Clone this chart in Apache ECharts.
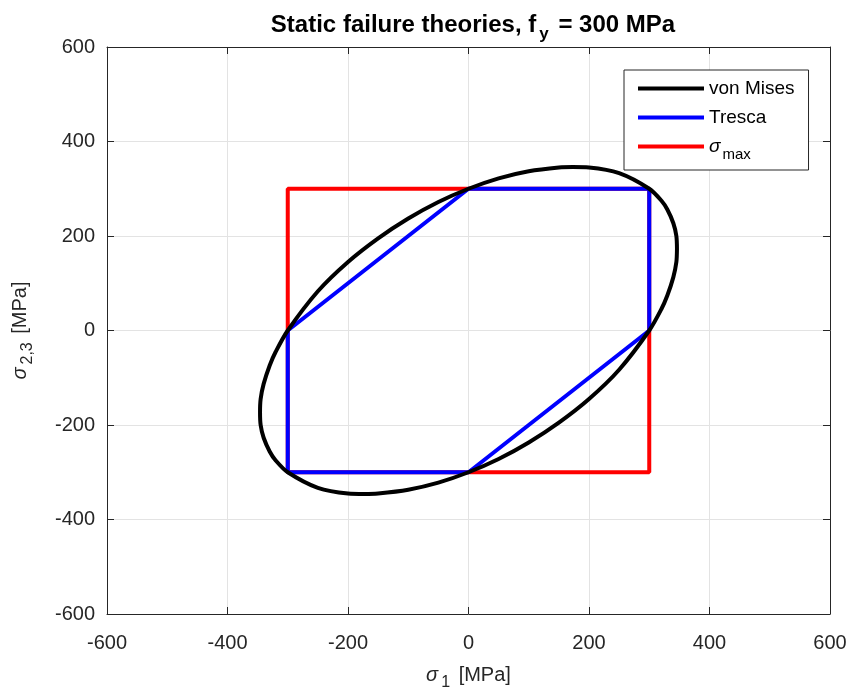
<!DOCTYPE html>
<html>
<head>
<meta charset="utf-8">
<script src="https://cdn.jsdelivr.net/npm/echarts@6/dist/echarts.min.js"></script>
<style>
  html, body { margin: 0; padding: 0; background: #fff; }
  #chart { width: 849px; height: 691px; }
</style>
</head>
<body>
<div id="chart"></div>
<script>
// values (MPa)
const axisTicks = [-600, -400, -200, 0, 200, 400, 600]

// von Mises ellipse, closed loop
const misesX = [346, 345, 340, 330, 320, 300, 250, 200, 173, 150, 100, 50, 0, -50, -100, -150, -200, -250, -300, -320, -330, -340, -345, -346,
  -345, -340, -330, -320, -300, -250, -200, -173, -150, -100, -50, 0, 50, 100, 150, 200, 250, 300, 320, 330, 340, 345, 346]
const misesY = [173, 200, 227, 256, 275, 300, 333, 345, 346, 345, 337, 322, 300, 272, 237, 195, 145, 83, 0, -45, -74, -113, -145, -173,
  -200, -227, -256, -275, -300, -333, -345, -346, -345, -337, -322, -300, -272, -237, -195, -145, -83, 0, 45, 74, 113, 145, 173]

// Tresca hexagon
const trescaX = [300, 300, 0, -300, -300, 0, 300]
const trescaY = [0, 300, 300, 0, -300, -300, 0]

// max normal stress square
const smaxX = [300, -300, -300, 300, 300]
const smaxY = [300, 300, -300, -300, 300]

const pairs = (xs, ys) => xs.map((x, i) => [x, ys[i]])

const txt = '#262626'
const font = 'Liberation Sans, Arial, sans-serif'

const chart = echarts.init(document.getElementById('chart'), null, { renderer: 'canvas' })

const baseAxis = {
  type: 'value',
  min: -600,
  max: 600,
  interval: 200,
  axisLine: { show: true, onZero: false, lineStyle: { color: txt, width: 1 } },
  axisTick: { show: true, inside: true, length: 7, lineStyle: { color: txt } },
}

const nameRich = {
  s: { fontFamily: font, fontStyle: 'italic', fontSize: 20, color: txt },
  sub: { fontFamily: font, fontSize: 16, color: txt, padding: [15, 3, 0, 3] },
  t: { fontFamily: font, fontSize: 20, color: txt }
}

chart.setOption({
  animation: false,
  backgroundColor: '#fff',
  title: {
    text: '{b|Static failure theories, f}{sub|y}{b| = 300 MPa}',
    left: 468,
    textAlign: 'center',
    top: 3,
    textStyle: {
      rich: {
        b: { fontFamily: font, fontWeight: 'bold', fontSize: 24, color: '#000', lineHeight: 28 },
        sub: { fontFamily: font, fontWeight: 'bold', fontSize: 17, color: '#000', padding: [18, 3, 0, 3] }
      }
    }
  },
  grid: { left: 107, right: 19, top: 47, bottom: 77, outerBoundsMode: 'none' },
  legend: {
    data: ['von Mises', 'Tresca', 'smax'],
    orient: 'vertical',
    left: 624,
    top: 70,
    padding: [8, 14, 8, 14],
    backgroundColor: '#fff',
    borderColor: txt,
    borderWidth: 1,
    borderRadius: 0,
    icon: 'rect',
    itemWidth: 66,
    itemHeight: 4,
    itemGap: 8,
    formatter: name => name === 'smax' ? '{s|σ}{sub|max}' : name,
    textStyle: {
      fontFamily: font,
      fontSize: 19,
      color: '#000',
      lineHeight: 21,
      rich: {
        s: { fontFamily: font, fontStyle: 'italic', fontSize: 19, color: '#000' },
        sub: { fontFamily: font, fontSize: 15, color: '#000', padding: [16, 0, 0, 2] }
      }
    }
  },
  xAxis: [
    Object.assign({}, baseAxis, {
      position: 'bottom',
      name: '{s|σ}{sub|1}{t| [MPa]}',
      nameLocation: 'middle',
      nameGap: 46,
      nameTextStyle: { rich: nameRich },
      axisLabel: { margin: 19, fontFamily: font, fontSize: 20, color: txt, formatter: v => axisTicks.includes(v) ? String(v) : '' },
      splitLine: { show: true, lineStyle: { color: '#e3e3e3', width: 1 } }
    }),
    Object.assign({}, baseAxis, {
      position: 'top',
      axisLabel: { show: false },
      splitLine: { show: false }
    })
  ],
  yAxis: [
    Object.assign({}, baseAxis, {
      position: 'left',
      name: '{s|σ}{sub|2,3}{t| [MPa]}',
      nameLocation: 'middle',
      nameRotate: 90,
      nameGap: 71,
      nameTextStyle: { rich: nameRich },
      axisLabel: { margin: 12, fontFamily: font, fontSize: 20, color: txt },
      splitLine: { show: true, lineStyle: { color: '#e3e3e3', width: 1 } }
    }),
    Object.assign({}, baseAxis, {
      position: 'right',
      axisLabel: { show: false },
      splitLine: { show: false }
    })
  ],
  series: [
    {
      name: 'von Mises',
      type: 'line',
      data: pairs(misesX, misesY),
      smooth: 0.3,
      showSymbol: false,
      symbol: 'none',
      z: 4,
      itemStyle: { color: '#000' },
      lineStyle: { color: '#000', width: 4 }
    },
    {
      name: 'Tresca',
      type: 'line',
      data: pairs(trescaX, trescaY),
      showSymbol: false,
      symbol: 'none',
      z: 3,
      itemStyle: { color: '#0000ff' },
      lineStyle: { color: '#0000ff', width: 4 }
    },
    {
      name: 'smax',
      type: 'line',
      data: pairs(smaxX, smaxY),
      showSymbol: false,
      symbol: 'none',
      z: 2,
      itemStyle: { color: '#ff0000' },
      lineStyle: { color: '#ff0000', width: 4 }
    }
  ]
})
</script>
</body>
</html>
